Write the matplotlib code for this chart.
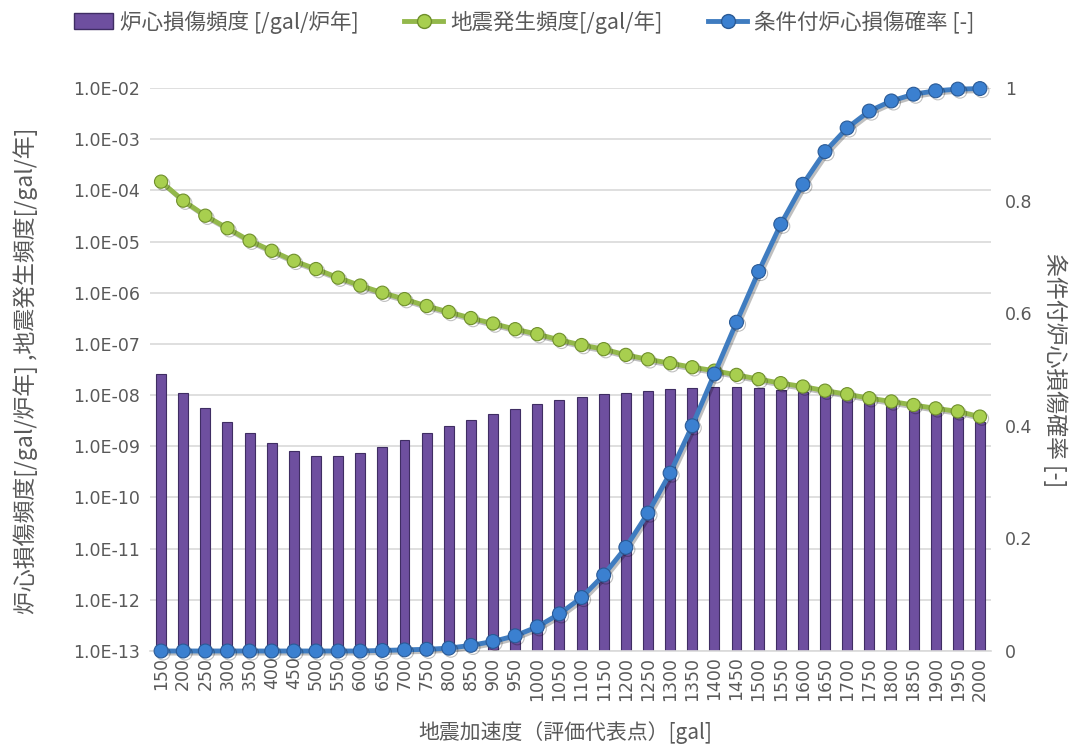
import matplotlib
matplotlib.use("Agg")
import matplotlib.pyplot as plt
from matplotlib.patches import Patch
from matplotlib.lines import Line2D
from matplotlib.ticker import FuncFormatter, FixedLocator
import matplotlib.patheffects as pe

plt.rcParams['font.family'] = ['Noto Sans CJK JP', 'DejaVu Sans']

# Data
accel = ["150", "200", "250", "300", "350", "400", "450", "500", "550", "600",
         "650", "700", "750", "800", "850", "900", "950", "1000", "1050", "1100",
         "1150", "1200", "1250", "1300", "1350", "1400", "1450", "1500", "1550", "1600",
         "1650", "1700", "1750", "1800", "1850", "1900", "1950", "2000"]

core_damage_freq = [2.6e-8, 1.09e-8, 5.5e-9, 3.0e-9, 1.8e-9, 1.15e-9, 8.0e-10, 6.5e-10, 6.4e-10, 7.3e-10,
                    9.6e-10, 1.3e-9, 1.8e-9, 2.45e-9, 3.3e-9, 4.2e-9, 5.3e-9, 6.6e-9, 7.9e-9, 9.2e-9,
                    1.05e-8, 1.12e-8, 1.2e-8, 1.3e-8, 1.36e-8, 1.42e-8, 1.43e-8, 1.37e-8, 1.26e-8, 1.14e-8,
                    1.01e-8, 8.7e-9, 7.5e-9, 6.4e-9, 5.3e-9, 4.4e-9, 3.7e-9, 3.0e-9]

quake_freq = [1.48e-4, 6.3e-5, 3.2e-5, 1.82e-5, 1.04e-5, 6.6e-6, 4.2e-6, 2.9e-6, 1.97e-6, 1.38e-6,
              1.0e-6, 7.5e-7, 5.5e-7, 4.2e-7, 3.2e-7, 2.5e-7, 1.94e-7, 1.55e-7, 1.2e-7, 9.5e-8,
              7.9e-8, 6.1e-8, 5.0e-8, 4.2e-8, 3.5e-8, 3.0e-8, 2.48e-8, 2.05e-8, 1.71e-8, 1.47e-8,
              1.22e-8, 1.04e-8, 8.7e-9, 7.5e-9, 6.4e-9, 5.5e-9, 4.8e-9, 3.8e-9]

cond_prob = [0, 0, 0, 0, 0, 0, 0, 0, 0, 0,
             0.001, 0.002, 0.003, 0.005, 0.010, 0.017, 0.027, 0.043, 0.066, 0.095,
             0.135, 0.184, 0.245, 0.316, 0.40, 0.492, 0.584, 0.674, 0.758, 0.829,
             0.887, 0.929, 0.959, 0.977, 0.989, 0.995, 0.998, 0.999]

ymin, ymax = 1e-13, 1e-2
txt = "#595959"
purple = "#6e4f9f"
green = "#93b84b"
blue = "#3f7cc0"

fig = plt.figure(figsize=(10.73, 7.54), dpi=100)
ax = fig.add_axes([150 / 1073, 103 / 754, 841 / 1073, 563 / 754])
ax2 = ax.twinx()

x = list(range(len(accel)))

# bars (left, log axis)
heights = [v - ymin for v in core_damage_freq]
ax.bar(x, heights, bottom=ymin, width=0.45, color=purple, edgecolor="#3f2d63",
       linewidth=0.8, zorder=2)

# seismic frequency line (left axis)
shadow = [pe.SimpleLineShadow(offset=(1.5, -1.5), alpha=0.25), pe.Normal()]
ax.plot(x, quake_freq, color=green, linewidth=3.5, marker="o", markersize=9.5,
        markerfacecolor="#a8cf4f", markeredgecolor="#6f8f2c", markeredgewidth=0.8,
        zorder=3, path_effects=shadow)

# conditional probability (right axis)
ax2.plot(x, cond_prob, color=blue, linewidth=3.5, marker="o", markersize=10,
         markerfacecolor="#3b80d0", markeredgecolor="#2a5a96", markeredgewidth=0.8,
         clip_on=False, zorder=3, path_effects=shadow)

ax.set_yscale("log")
ax.set_ylim(ymin, ymax)
ax.set_xlim(-0.5, len(accel) - 0.5)
ax.yaxis.set_major_locator(FixedLocator([10.0 ** e for e in range(-13, -1)]))
ax.yaxis.set_minor_locator(FixedLocator([]))
ax.yaxis.set_major_formatter(FuncFormatter(lambda v, p: f"{v:.1E}"))
ax.grid(axis="y", color="#d9d9d9", linewidth=1.2, zorder=0)
ax.set_axisbelow(True)

ax.set_xticks(x)
ax.set_xticklabels(accel, rotation=90, fontsize=12.5, color=txt, family="DejaVu Sans")
ax.tick_params(axis="x", length=0, pad=4)
ax.tick_params(axis="y", length=0, pad=7, labelsize=12.5, labelcolor=txt)
for lab in ax.get_yticklabels():
    lab.set_family("DejaVu Sans")

ax2.set_ylim(0, 1)
ax2.set_yticks([0, 0.2, 0.4, 0.6, 0.8, 1])
ax2.set_yticklabels(["0", "0.2", "0.4", "0.6", "0.8", "1"], family="DejaVu Sans")
ax2.tick_params(axis="y", length=0, pad=10, labelsize=12.5, labelcolor=txt)

for a in (ax, ax2):
    for s in ("top", "left", "right"):
        a.spines[s].set_visible(False)
ax.spines["bottom"].set_color("#d9d9d9")
ax.spines["bottom"].set_linewidth(1.2)
ax2.spines["bottom"].set_visible(False)

# axis titles
fig.text(565 / 1073, 1 - 733 / 754, "地震加速度（評価代表点）[gal]", fontsize=15, color=txt,
         ha="center", va="center")
fig.text(26 / 1073, 1 - 371 / 754, "炉心損傷頻度[/gal/炉年] ,地震発生頻度[/gal/年]", fontsize=16.5,
         color=txt, rotation=90, ha="center", va="center")
fig.text(1055 / 1073, 1 - 370 / 754, "条件付炉心損傷確率 [-]", fontsize=16.5, color=txt,
         rotation=-90, ha="center", va="center")

handles = [
    Patch(facecolor=purple, edgecolor="#3f2d63"),
    Line2D([], [], color=green, linewidth=3.5, marker="o", markersize=10,
           markerfacecolor="#a8cf4f", markeredgecolor="#6f8f2c"),
    Line2D([], [], color=blue, linewidth=3.5, marker="o", markersize=10,
           markerfacecolor="#3b80d0", markeredgecolor="#2a5a96"),
]
labels = ["炉心損傷頻度 [/gal/炉年]", "地震発生頻度[/gal/年]", "条件付炉心損傷確率 [-]"]
fig.legend(handles, labels, loc="upper left", bbox_to_anchor=(0.051, 1.012), ncol=3,
           frameon=False, fontsize=15.5, labelcolor=txt, handlelength=1.8,
           handletextpad=0.35, columnspacing=2.1)

fig.savefig("out.png", dpi=100)
